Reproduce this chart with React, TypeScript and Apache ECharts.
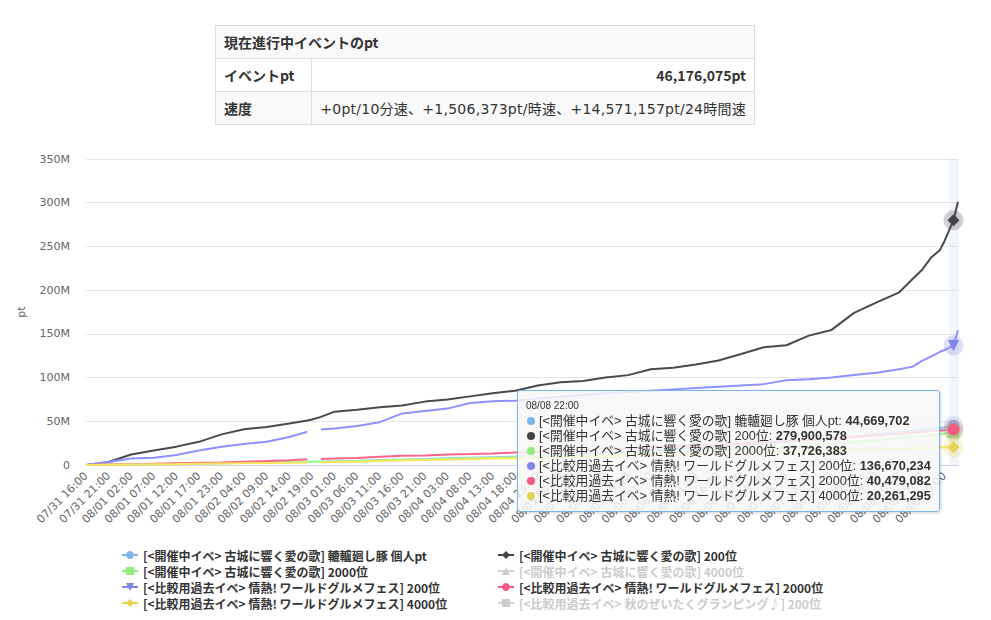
import { useEffect, useRef } from "react";
import * as echarts from "echarts";

// hourly categories 07/31 16:00 .. 08/08 23:00, with the hours the tracker missed
const START_HOUR = Date.UTC(2024, 6, 31, 16);
const HOUR_SPAN = 200;
const SKIPPED_HOURS = ["08/01 20:00", "08/02 22:00", "08/03 23:00", "08/05 21:00", "08/06 20:00", "08/07 22:00"];

// points (values in millions of pt)
const SAMPLE_TIMES = [
  "07/31 16:00", "07/31 21:00", "08/01 02:00", "08/01 07:00", "08/01 12:00", "08/01 17:00",
  "08/01 23:00", "08/02 04:00", "08/02 09:00", "08/02 14:00", "08/02 18:00", "08/02 19:00",
  "08/02 21:00", "08/03 01:00", "08/03 06:00", "08/03 11:00", "08/03 16:00", "08/03 21:00",
  "08/04 03:00", "08/04 08:00", "08/04 13:00", "08/04 18:00", "08/04 23:00", "08/05 04:00",
  "08/05 09:00", "08/05 14:00", "08/05 19:00", "08/06 01:00", "08/06 06:00", "08/06 11:00",
  "08/06 16:00", "08/06 22:00", "08/07 03:00", "08/07 08:00", "08/07 13:00", "08/07 18:00",
  "08/08 00:00", "08/08 05:00", "08/08 10:00", "08/08 13:00", "08/08 15:00", "08/08 17:00",
  "08/08 19:00", "08/08 20:00", "08/08 21:00", "08/08 22:00", "08/08 23:00",
];
const HOVER_TIME = "08/08 22:00";

const personalPt = [
  0, 0.3, 0.7, 1, 1.3, 1.7, 2.1, 2.5, 2.9, 3.3, 3.7, 3.8, 4, 4.3, 4.9, 5.6, 6.3, 7, 7.7, 8.4, 9, 9.6,
  10.5, 11.5, 12.5, 13.7, 15, 16.5, 18, 19.5, 21, 22.8, 24.5, 26.5, 28.5, 30.5, 33, 35.5, 38, 39.5,
  40.5, 41.5, 42.5, 43, 43.8, 44.669702, 46.176075,
];
const current200 = [
  0, 3.5, 12, 16.5, 21, 26.5, 35, 41, 43.5, 47.5, 51, 52, 55, 61, 63.3, 66, 68, 72.5, 75, 78.5, 82, 85,
  91, 94.6, 96, 100, 102.8, 109.5, 111.3, 115, 119.5, 127, 134.6, 137, 148, 154.5, 174, 186, 197.5, 213,
  223, 237, 246, 256, 268, 279.900578, 301,
];
const current2000 = [
  0, 0.3, 0.6, 0.9, 1.2, 1.6, 2, 2.4, 2.8, 3.2, 3.5, 3.6, 3.8, 4.1, 4.6, 5.2, 5.8, 6.4, 7, 7.6, 8.2, 8.8,
  9.6, 10.4, 11.2, 12, 13, 14, 15, 16, 17, 18.3, 19.6, 21, 22.5, 24, 26, 28, 30.5, 32, 33, 34, 35.2,
  35.9, 36.8, 37.726383, 38.4,
];
const past200 = [
  0, 3.5, 7.5, 8.3, 11.5, 16.5, 21, 24, 26.5, 32, 38, null, 40.7, 41.7, 44.5, 49, 59, 61.8, 64.5, 71, 73,
  73.5, 76, 78, 80, 82, 83.5, 85, 86.5, 88, 89.5, 91, 92.5, 97, 98.2, 100, 103, 105.5, 109.5, 112.5,
  119, 124, 129.5, 131.5, 134, 136.670234, 154,
];
const past2000 = [
  0, 0.5, 1, 1.5, 2, 2.5, 3, 3.8, 4.5, 5.5, 6.5, null, 7, 7.3, 8, 9.5, 10.5, 11, 12, 12.5, 13.2, 14.2,
  15, 16, 17, 18, 19, 20, 21, 22, 23, 24.5, 26, 27.5, 29, 30.5, 32, 34, 36, 37, 38, 38.8, 39.5, 39.8,
  40.1, 40.479082, 41.5,
];
const past4000 = [
  0, 0.3, 0.6, 0.9, 1.1, 1.4, 1.7, 2, 2.3, 2.5, 2.8, null, 3, 3.3, 3.8, 4.5, 5.2, 5.7, 6.3, 7, 7.4, 7.8,
  8.3, 8.8, 9.4, 10, 10.6, 11.2, 11.8, 12.4, 13, 13.7, 14.4, 15.1, 15.8, 16.5, 17.2, 18, 18.8, 19.2,
  19.5, 19.7, 19.9, 20, 20.1, 20.261295, 20.6,
];

const SERIES_NAMES = [
  "[<開催中イベ> 古城に響く愛の歌] 轆轤廻し豚 個人pt",
  "[<開催中イベ> 古城に響く愛の歌] 200位",
  "[<開催中イベ> 古城に響く愛の歌] 2000位",
  "[<開催中イベ> 古城に響く愛の歌] 4000位",
  "[<比較用過去イベ> 情熱! ワールドグルメフェス] 200位",
  "[<比較用過去イベ> 情熱! ワールドグルメフェス] 2000位",
  "[<比較用過去イベ> 情熱! ワールドグルメフェス] 4000位",
  "[<比較用過去イベ> 秋のぜいたくグランピング♪] 200位",
];
const SERIES_VALUES: (number | null)[][] = [
  personalPt, current200, current2000, [], past200, past2000, past4000, [],
];
const HIDDEN = [3, 7];
const COLORS = ["#7cb5ec", "#434348", "#90ed7d", "#f7a35c", "#8085e9", "#f15c80", "#e4d354", "#2b908f"];
const TRIANGLE_DOWN = "path://M0,0L10,0L5,10Z";
const SYMBOLS = ["circle", "diamond", "rect", "triangle", TRIANGLE_DOWN, "circle", "diamond", "rect"];

const TABLE_ROWS = [
  { label: "イベントpt", value: "46,176,075pt", bold: true },
  { label: "速度", value: "+0pt/10分速、+1,506,373pt/時速、+14,571,157pt/24時間速", bold: false },
];

const JP_FONT = '"Noto Sans CJK JP", "Noto Sans", sans-serif';
const TIP_FONT = '"Liberation Sans", "Noto Sans CJK JP", sans-serif';
const AXIS_FONT = '"DejaVu Sans", sans-serif';

function buildCategories(): string[] {
  const out: string[] = [];
  for (let h = 0; h < HOUR_SPAN; h++) {
    const d = new Date(START_HOUR + h * 3600 * 1000);
    const p = (n: number) => String(n).padStart(2, "0");
    const label = `${p(d.getUTCMonth() + 1)}/${p(d.getUTCDate())} ${p(d.getUTCHours())}:00`;
    if (!SKIPPED_HOURS.includes(label)) out.push(label);
  }
  return out;
}

const esc = (s: string) => s.replace(/&/g, "&amp;").replace(/</g, "&lt;").replace(/>/g, "&gt;");

function buildOption(): echarts.EChartsOption {
  const hoverIdx = SAMPLE_TIMES.indexOf(HOVER_TIME);
  const selected: Record<string, boolean> = {};
  SERIES_NAMES.forEach((n, i) => (selected[n] = !HIDDEN.includes(i)));

  const series = SERIES_NAMES.map((name, i) => {
    const values = SERIES_VALUES[i];
    const hv = values[hoverIdx];
    return {
      type: "line" as const,
      name,
      data: values.map((v, k) => [SAMPLE_TIMES[k], v == null ? "-" : v]),
      color: COLORS[i],
      symbol: SYMBOLS[i],
      symbolSize: 10,
      showSymbol: false,
      connectNulls: false,
      lineStyle: { width: 2 },
      emphasis: { scale: false, lineStyle: { width: 2 } },
      markPoint:
        hv == null
          ? undefined
          : {
              silent: true,
              label: { show: false },
              data: [
                { coord: [HOVER_TIME, hv], symbol: "circle", symbolSize: 20, itemStyle: { color: COLORS[i], opacity: 0.25 } },
                { coord: [HOVER_TIME, hv], symbol: SYMBOLS[i], symbolSize: i === 4 ? 11 : 12, itemStyle: { color: COLORS[i] } },
              ],
            },
    };
  });

  const legendBase = {
    orient: "vertical" as const,
    padding: 0,
    height: 80,
    itemWidth: 16,
    itemHeight: 10,
    itemGap: 4,
    selected,
    inactiveColor: "#cccccc",
    textStyle: { color: "#333333", fontSize: 12, fontWeight: "bold" as const, fontFamily: JP_FONT },
  };

  return {
    animation: false,
    grid: { left: 76, right: 25, top: 19, bottom: 167 },
    legend: [
      { ...legendBase, left: 113, top: 409, data: [SERIES_NAMES[0], SERIES_NAMES[2], SERIES_NAMES[4], SERIES_NAMES[6]] },
      { ...legendBase, left: 489, top: 409, data: [SERIES_NAMES[1], SERIES_NAMES[3], SERIES_NAMES[5], SERIES_NAMES[7]] },
    ],
    tooltip: {
      trigger: "axis",
      triggerOn: "none",
      alwaysShowContent: true,
      transitionDuration: 0,
      position: [509, 250],
      padding: [8, 8],
      backgroundColor: "rgba(247,247,247,0.85)",
      borderColor: "#7cb5ec",
      borderWidth: 1,
      extraCssText: "box-shadow:1px 1px 3px rgba(0,0,0,0.18);border-radius:3px;",
      textStyle: { color: "#333333", fontSize: 12, fontFamily: TIP_FONT },
      axisPointer: {
        type: "line",
        z: 1,
        animation: false,
        lineStyle: { color: "rgba(204,214,235,0.25)", width: 10, type: "solid" },
      },
      formatter: (params: any) => {
        const list = Array.isArray(params) ? params : [params];
        const head = `<div style="font-size:10px;line-height:14px;height:14px">${list[0].axisValue}</div>`;
        const rows = list
          .map(
            (p: any) =>
              `<div style="font-size:12.8px;line-height:15px;height:15px;white-space:nowrap"><span style="display:inline-block;width:8px;height:8px;border-radius:50%;background:${p.color};margin:0 4px 0 1px;vertical-align:0px"></span>${esc(
                p.seriesName,
              )}: <b>${Math.round(p.value[1] * 1e6).toLocaleString("en-US")}</b></div>`,
          )
          .join("");
        return head + rows;
      },
    },
    xAxis: {
      type: "category",
      data: buildCategories(),
      boundaryGap: false,
      axisLine: { lineStyle: { color: "#ccd6eb" } },
      axisTick: { show: false },
      axisLabel: { interval: 4, rotate: 45, margin: 9, color: "#666666", fontSize: 11, fontFamily: AXIS_FONT },
    },
    yAxis: {
      type: "value",
      min: 0,
      max: 350,
      interval: 50,
      name: "pt",
      nameLocation: "middle",
      nameGap: 59,
      nameTextStyle: { color: "#666666", fontSize: 11, fontFamily: AXIS_FONT },
      axisLine: { show: false },
      axisTick: { show: false },
      splitLine: { lineStyle: { color: "#e6e6e6" } },
      axisLabel: {
        margin: 16,
        color: "#666666",
        fontSize: 11,
        fontFamily: AXIS_FONT,
        formatter: (v: number) => (v === 0 ? "0" : `${v}M`),
      },
    },
    series,
  } as echarts.EChartsOption;
}

function EventTable() {
  const cell: React.CSSProperties = {
    border: "1px solid #dddddd",
    height: 32,
    padding: "0 8px",
    verticalAlign: "middle",
  };
  return (
    <table
      style={{
        position: "absolute",
        left: 207,
        top: 17,
        width: 540,
        borderCollapse: "collapse",
        fontFamily: JP_FONT,
        fontSize: 14,
        color: "#333333",
      }}
    >
      <tbody>
        <tr style={{ background: "#f9f9f9" }}>
          <td colSpan={2} style={{ ...cell, fontWeight: "bold" }}>
            現在進行中イベントのpt
          </td>
        </tr>
        {TABLE_ROWS.map((r, i) => (
          <tr key={r.label} style={{ background: i % 2 === 1 ? "#f9f9f9" : "#ffffff" }}>
            <td style={{ ...cell, width: 81, fontWeight: "bold" }}>{r.label}</td>
            <td
              style={{
                ...cell,
                textAlign: "right",
                whiteSpace: "nowrap",
                fontWeight: r.bold ? "bold" : "normal",
                fontFamily: r.bold ? JP_FONT : `"DejaVu Sans", ${JP_FONT}`,
                letterSpacing: r.bold ? 0 : 0.25,
              }}
            >
              {r.value}
            </td>
          </tr>
        ))}
      </tbody>
    </table>
  );
}

export default function App() {
  const chartRef = useRef<HTMLDivElement>(null);

  useEffect(() => {
    if (!chartRef.current) return;
    const chart = echarts.init(chartRef.current, undefined, { renderer: "svg" });
    chart.setOption(buildOption());
    chart.dispatchAction({ type: "showTip", seriesIndex: 1, dataIndex: SAMPLE_TIMES.indexOf(HOVER_TIME) });
    return () => {
      chart.dispose();
    };
  }, []);

  return (
    <div style={{ position: "relative", width: 975, height: 604 }}>
      <div style={{ position: "absolute", left: -8, top: -8, width: 138, height: 2, background: "#dddddd" }} />
      <div style={{ position: "absolute", left: 407, top: -8, width: 555, height: 2, background: "#dddddd" }} />
      <EventTable />
      <div ref={chartRef} style={{ position: "absolute", left: 0, top: 132, width: 975, height: 492 }} />
    </div>
  );
}
